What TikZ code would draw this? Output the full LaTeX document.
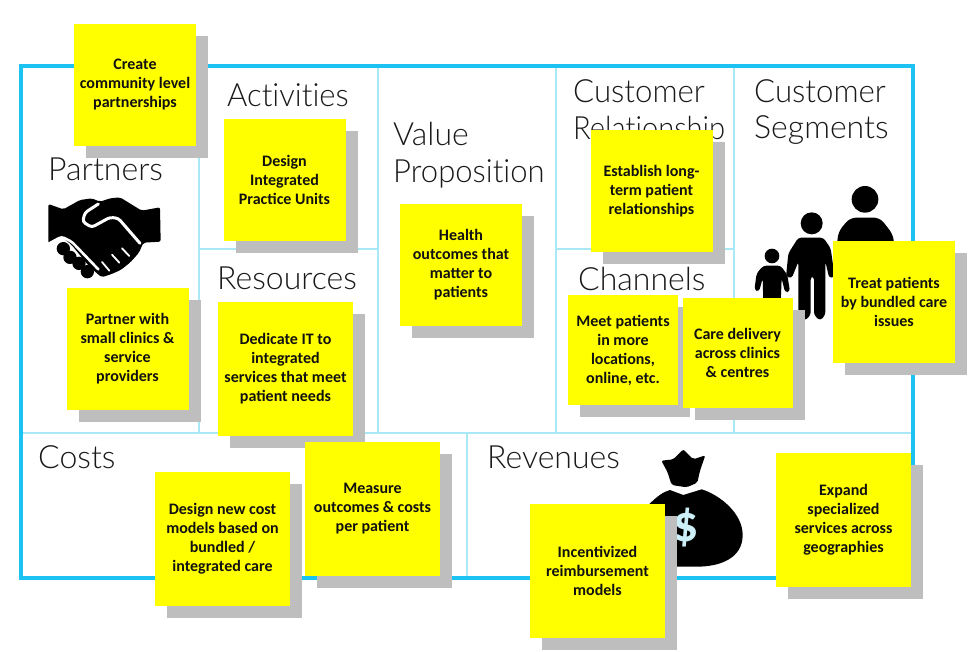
\documentclass[tikz,border=0pt]{standalone}
\usepackage{xcolor}
\usepackage{fontspec}
\usepackage{tikz}
\usetikzlibrary{shadows}
\setmainfont{Carlito}
\newfontfamily\titlefont[Ligatures=NoCommon]{Lato Light}
\definecolor{framecyan}{HTML}{1CC3F2}
\definecolor{gridcyan}{HTML}{A9E8F6}
\definecolor{noteyellow}{RGB}{255,255,0}
\definecolor{shadowgray}{HTML}{BEBEBE}
\definecolor{notetext}{HTML}{111111}
\definecolor{dollarcyan}{HTML}{CDEFF8}
\tikzset{
  blockframe/.style={draw=framecyan,line width=4pt},
  blockline/.style={draw=gridcyan,line width=2pt},
  blocktitle/.style={anchor=base west,inner sep=0pt,text=black!90,
    font=\titlefont\fontsize{32}{36}\selectfont,align=left},
  note/.style={fill=noteyellow,inner sep=0pt,align=center,text=notetext,
    font=\bfseries\fontsize{16}{19}\selectfont,
    general shadow={fill=shadowgray,shadow xshift=12pt,shadow yshift=-12pt}},
  smallnote/.style={note,minimum width=122pt,minimum height=122pt},
  widenote/.style={note,minimum width=135pt,minimum height=134pt},
  slimnote/.style={note,minimum width=110pt,minimum height=110pt},
  icon/.style={fill=black,draw=none},
  iconcut/.style={draw=white,line width=1.8pt,line cap=round}
}

\begin{document}
\begin{tikzpicture}[x=1pt,y=-1pt]
  \useasboundingbox (0,0) rectangle (968,651);

  % canvas
  \draw[blockline] (22,433) -- (913,433);
  \foreach \x in {199,378,556,734} {%
    \draw[blockline] (\x,67) -- (\x,433);
  }
  \draw[blockline] (467,433) -- (467,578);
  \draw[blockline] (199,249) -- (378,249);
  \draw[blockline] (556,249) -- (734,249);
  \draw[blockframe] (21,66) rectangle (913,578);

  % titles
  \node[blocktitle] (partners) at (48,180) {Partners};
  \node[blocktitle] (activities) at (227,106) {\scalebox{.97}[1]{Activities}};
  \node[blocktitle] (resources) at (217,289) {Resources};
  \node[blocktitle] (value) at (393,145) {Value};
  \node[blocktitle] (proposition) at (393,182) {\scalebox{.97}[1]{Proposition}};
  \node[blocktitle] (customer) at (573,102) {\scalebox{.975}[1]{Customer}};
  \node[blocktitle] (relationship) at (573,139) {\scalebox{.91}[1]{Relationship}};
  \node[blocktitle] (channels) at (578,290) {Channels};
  \node[blocktitle] (customerb) at (754,102) {\scalebox{.975}[1]{Customer}};
  \node[blocktitle] (segments) at (754,138) {Segments};
  \node[blocktitle] (costs) at (38,468) {Costs};
  \node[blocktitle] (revenues) at (487,468) {Revenues};

  % handshake
  \begin{scope}[shift={(30,180)},scale=1/3]
    \fill[icon,rounded corners=2pt] (55,72) -- (100,88) -- (150,60) -- (185,55)
    -- (210,65) -- (240,55) -- (270,52) -- (335,92) -- (390,82) -- (392,185)
    -- (340,188) -- (327,218) -- (300,248) -- (272,270) -- (245,282)
    -- (215,292) -- (180,262) -- (125,195) -- (95,170) -- (55,190) -- cycle;
    \foreach \x/\y in {100/206,120/232,147/250,172/275} {%
      \fill[icon] (\x,\y) circle (20);
    }
    \draw[iconcut,line width=3pt,rounded corners=3pt] (205,72) -- (165,98)
    -- (158,125) -- (185,142) -- (240,112) -- (265,115) -- (330,190);
    \draw[iconcut] (276,205) -- (298,228);
    \draw[iconcut] (246,224) -- (268,248);
    \draw[iconcut] (216,246) -- (238,272);
    \draw[iconcut,line width=2.6pt,rounded corners=3pt] (58,190) -- (95,170)
    -- (125,185) -- (205,268);
  \end{scope}

  % family
  \begin{scope}[shift={(740,170)},scale=1/3]
    \fill[icon] (375,88) circle (40);
    \fill[icon,rounded corners=6pt] (280,330) -- (295,185) -- (330,143)
    -- (420,143) -- (460,195) -- (470,330) -- cycle;
    \fill[icon] (215,160) circle (33);
    \fill[icon,rounded corners=3pt] (138,320) -- (145,250) -- (175,203)
    -- (250,203) -- (272,235) -- (284,320) -- (268,325) -- (256,275)
    -- (256,435) -- (240,452) -- (222,435) -- (222,320) -- (212,320)
    -- (212,435) -- (195,452) -- (175,435) -- (175,275) -- (155,325) -- cycle;
    \fill[icon] (96,258) circle (22);
    \fill[icon,rounded corners=3pt] (43,360) -- (50,310) -- (70,287)
    -- (122,287) -- (142,315) -- (150,365) -- (135,367) -- (125,325)
    -- (122,400) -- (70,400) -- (68,325) -- (57,365) -- cycle;
  \end{scope}

  % money bag
  \begin{scope}[shift={(520,430)},scale=1/3]
    \fill[icon,rounded corners=2pt] (424,92) -- (460,88) -- (490,58) -- (520,88)
    -- (556,76) -- (540,122) -- (532,158) -- (500,172) -- (455,165) -- (442,125)
    -- cycle;
    \fill[icon] (385,225) .. controls (410,200) and (430,185) .. (450,180)
    -- (490,195) -- (545,178) .. controls (600,195) and (668,250) .. (668,315)
    .. controls (668,385) and (600,410) .. (530,410) -- (400,410) -- cycle;
    \node[text=dollarcyan,inner sep=0pt,font=\bfseries\fontsize{52}{52}\selectfont]
    (dollar) at (497,292) {\$};
  \end{scope}

  % notes
  \node[smallnote] (create) at (135,85) {Create\\community level\\partnerships};
  \node[smallnote] (design) at (284.5,180) {Design\\Integrated\\Practice Units};
  \node[smallnote] (partner) at (127.5,349) {Partner with\\small clinics \&\\service\\providers};
  \node[widenote] (dedicate) at (285.5,369) {Dedicate IT to\\integrated\\services that meet\\patient needs};
  \node[smallnote] (health) at (461,265) {Health\\outcomes that\\matter to\\patients};
  \node[smallnote] (establish) at (651.5,191) {Establish long-\\term patient\\relationships};
  \node[slimnote] (meet) at (623,350) {Meet patients\\in more\\locations,\\online, etc.};
  \node[slimnote] (care) at (737.5,353) {Care delivery\\across clinics\\\& centres};
  \node[smallnote] (treat) at (894,301.5) {Treat patients\\by bundled care\\issues};
  \node[widenote] (costmodels) at (222.5,539) {Design new cost\\models based on\\bundled /\\integrated care};
  \node[widenote] (measure) at (372.5,509) {Measure\\outcomes \& costs\\per patient};
  \node[widenote] (incentive) at (597.5,570.5) {Incentivized\\reimbursement\\models};
  \node[widenote] (expand) at (843.5,520) {Expand\\specialized\\services across\\geographies};
\end{tikzpicture}
\end{document}
